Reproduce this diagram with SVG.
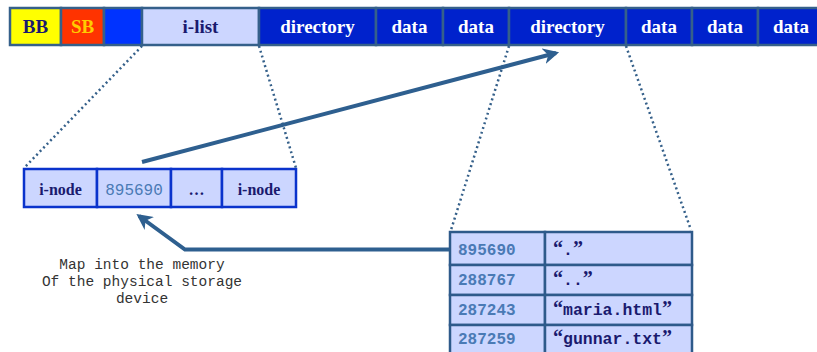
<svg xmlns="http://www.w3.org/2000/svg" width="817" height="352" viewBox="0 0 817 352">
<style>
.bar{stroke:#35608a;stroke-width:2.5}
.dk{fill:#0022cc}
.lt{fill:#ccd6ff}
.t19{font-family:"Liberation Serif",serif;font-weight:bold;font-size:19px;text-anchor:middle}
.w{fill:#ffffff}
.nv{fill:#1a1a6e}
.inode{fill:#ccd6ff;stroke:#0a33cc;stroke-width:2.5}
.t16{font-family:"Liberation Serif",serif;font-weight:bold;font-size:16px;text-anchor:middle;fill:#1a1a6e}
.num{font-family:"Liberation Mono",monospace;font-size:16px;fill:#4a7ab5}
.tbl{fill:#ccd6ff;stroke:#2e5a8a;stroke-width:2.5}
.nm{font-family:"Liberation Mono",monospace;font-weight:bold;font-size:16.5px;fill:#1a1a6e}
.q{font-family:"Liberation Serif",serif;font-weight:bold;font-size:20px}
.dot{fill:none;stroke:#35608a;stroke-width:2.5;stroke-dasharray:2 3}
.arr{fill:none;stroke:#2e5f8f;stroke-width:4}
.cap{font-family:"Liberation Mono",monospace;font-size:14.5px;fill:#333333;text-anchor:middle}
</style>
<defs>
<marker id="ah" viewBox="0 0 10 10" refX="8" refY="5" markerWidth="4" markerHeight="4" orient="auto" markerUnits="strokeWidth">
<path d="M0,0 L10,5 L0,10 L3,5 Z" fill="#2e5f8f"/>
</marker>
</defs>
<g id="disk">
<rect x="9" y="7" width="810" height="39" fill="#35608a"/>
<g id="bb"><rect class="bar" x="10" y="8" width="51" height="37" fill="#ffff00"/><text class="t19 nv" x="35.5" y="33">BB</text></g>
<g id="sb"><rect class="bar" x="61" y="8" width="43" height="37" fill="#ff3300"/><text class="t19" x="82.5" y="33" fill="#ffcc00">SB</text></g>
<g id="blk"><rect class="bar" x="104" y="8" width="38" height="37" fill="#0033ff"/></g>
<g id="ilist"><rect class="bar lt" x="142" y="8" width="117" height="37"/><text class="t19 nv" x="200.5" y="33">i-list</text></g>
<g id="dir1"><rect class="bar dk" x="259" y="8" width="117" height="37"/><text class="t19 w" x="317.5" y="33">directory</text></g>
<g id="data1"><rect class="bar dk" x="376" y="8" width="67" height="37"/><text class="t19 w" x="409.5" y="33">data</text></g>
<g id="data2"><rect class="bar dk" x="443" y="8" width="66" height="37"/><text class="t19 w" x="476" y="33">data</text></g>
<g id="dir2"><rect class="bar dk" x="509" y="8" width="117" height="37"/><text class="t19 w" x="567.5" y="33">directory</text></g>
<g id="data3"><rect class="bar dk" x="626" y="8" width="66" height="37"/><text class="t19 w" x="659" y="33">data</text></g>
<g id="data4"><rect class="bar dk" x="692" y="8" width="66" height="37"/><text class="t19 w" x="725" y="33">data</text></g>
<g id="data5"><rect class="bar dk" x="758" y="8" width="66" height="37"/><text class="t19 w" x="791" y="33">data</text></g>
</g>
<g id="inodes">
<rect class="inode" x="24" y="169" width="73" height="38"/><text class="t16" x="60.5" y="195">i-node</text>
<rect class="inode" x="97" y="169" width="74" height="38"/><text class="num" x="134" y="195" text-anchor="middle">895690</text>
<rect class="inode" x="171" y="169" width="51" height="38"/><text class="t16" x="196.5" y="195">…</text>
<rect class="inode" x="222" y="169" width="74" height="38"/><text class="t16" x="259" y="195">i-node</text>
</g>
<g id="dirtable">
<rect class="tbl" x="450" y="232" width="95" height="33"/><text class="num" x="458" y="255" font-weight="bold">895690</text>
<rect class="tbl" x="545" y="232" width="147" height="33"/><text class="nm" x="553" y="255"><tspan class="q">“</tspan>.<tspan class="q">”</tspan></text>
<rect class="tbl" x="450" y="265" width="95" height="30"/><text class="num" x="458" y="285" font-weight="bold">288767</text>
<rect class="tbl" x="545" y="265" width="147" height="30"/><text class="nm" x="553" y="285"><tspan class="q">“</tspan>..<tspan class="q">”</tspan></text>
<rect class="tbl" x="450" y="295" width="95" height="30"/><text class="num" x="458" y="315" font-weight="bold">287243</text>
<rect class="tbl" x="545" y="295" width="147" height="30"/><text class="nm" x="553" y="315"><tspan class="q">“</tspan>maria.html<tspan class="q">”</tspan></text>
<rect class="tbl" x="450" y="325" width="95" height="32"/><text class="num" x="458" y="344" font-weight="bold">287259</text>
<rect class="tbl" x="545" y="325" width="147" height="32"/><text class="nm" x="553" y="344"><tspan class="q">“</tspan>gunnar.txt<tspan class="q">”</tspan></text>
</g>
<g id="connectors">
<line class="dot" x1="142" y1="46" x2="24" y2="168"/>
<line class="dot" x1="259" y1="46" x2="296" y2="168"/>
<line class="dot" x1="509" y1="46" x2="451" y2="230"/>
<line class="dot" x1="626" y1="46" x2="691" y2="230"/>
<line class="arr" x1="142" y1="162" x2="556" y2="53" marker-end="url(#ah)"/>
<polyline class="arr" points="449,249.5 185,249.5 139,216" marker-end="url(#ah)"/>
</g>
<g id="caption">
<text class="cap" x="142" y="269">Map into the memory</text>
<text class="cap" x="142" y="286">Of the physical storage</text>
<text class="cap" x="142" y="303">device</text>
</g>
</svg>
